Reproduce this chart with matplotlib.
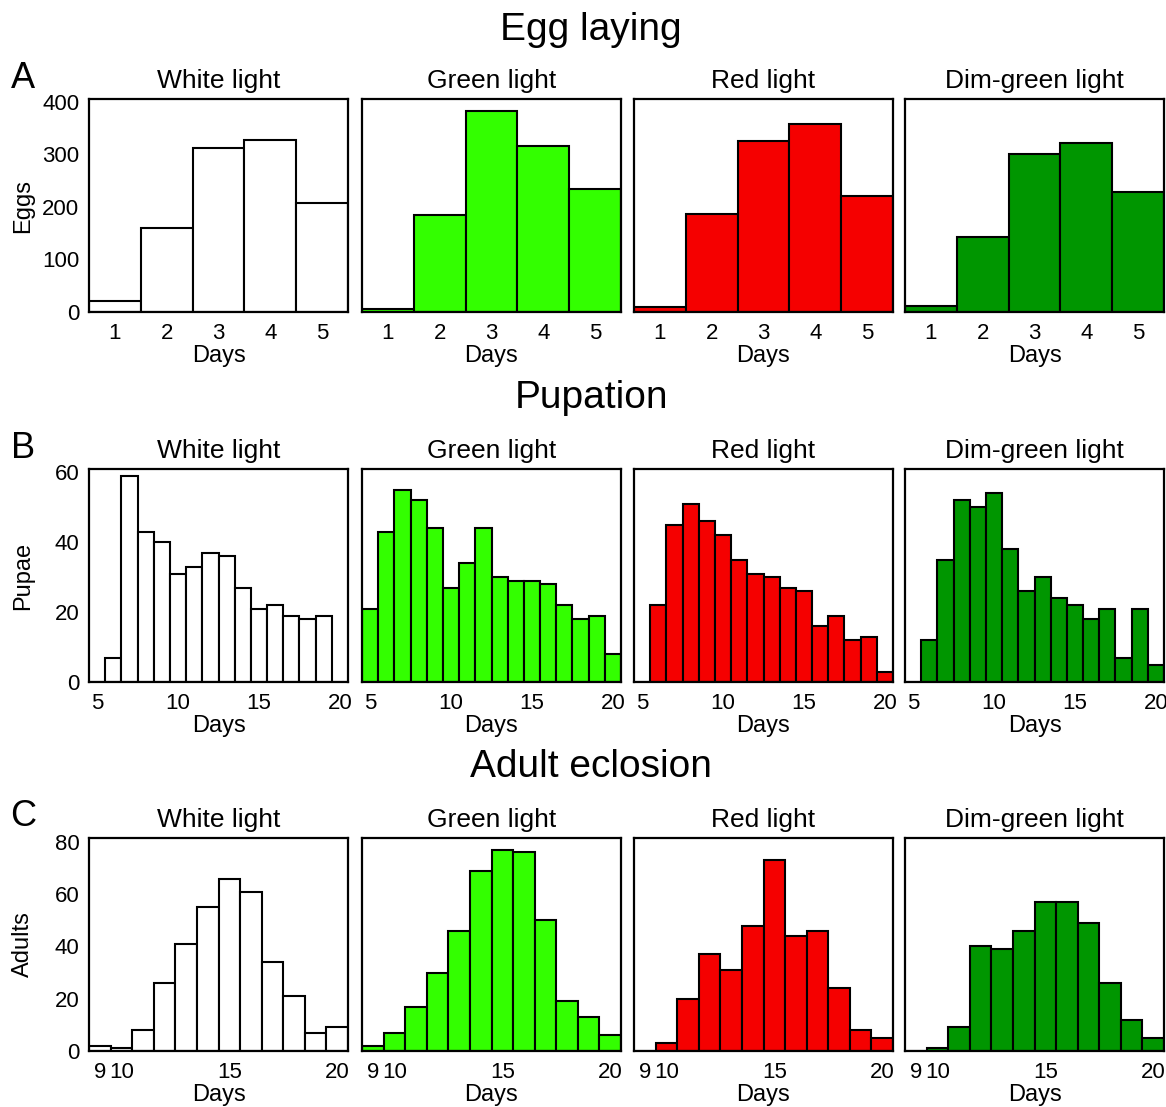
import matplotlib
matplotlib.use('Agg')
import matplotlib.pyplot as plt

plt.rcParams['font.family'] = ['Liberation Sans', 'DejaVu Sans']

conditions = ['White light', 'Green light', 'Red light', 'Dim-green light']
colors = ['white', '#33ff00', '#f50000', '#009600']

# A: egg laying, days 1-5
egg_days = [1, 2, 3, 4, 5]
eggs_white = [20, 159, 312, 327, 208]
eggs_green = [6, 184, 382, 315, 234]
eggs_red = [10, 186, 326, 358, 220]
eggs_dim = [12, 142, 300, 322, 229]

# B: pupation, days 5-20
pupa_days = list(range(5, 21))
pupae_white = [0, 7, 59, 43, 40, 31, 33, 37, 36, 27, 21, 22, 19, 18, 19, 0]
pupae_green = [21, 43, 55, 52, 44, 27, 34, 44, 30, 29, 29, 28, 22, 18, 19, 8]
pupae_red = [0, 22, 45, 51, 46, 42, 35, 31, 30, 27, 26, 16, 19, 12, 13, 3]
pupae_dim = [0, 12, 35, 52, 50, 54, 38, 26, 30, 24, 22, 18, 21, 7, 21, 5]

# C: adult eclosion, days 9-20
adult_days = list(range(9, 21))
adults_white = [2, 1, 8, 26, 41, 55, 66, 61, 34, 21, 7, 9]
adults_green = [2, 7, 17, 30, 46, 69, 77, 76, 50, 19, 13, 6]
adults_red = [0, 3, 20, 37, 31, 48, 73, 44, 46, 24, 8, 5]
adults_dim = [0, 1, 9, 40, 39, 46, 57, 57, 49, 26, 12, 5]

rows = [
    dict(title='Egg laying', letter='A', ylabel='Eggs', days=egg_days,
         data=[eggs_white, eggs_green, eggs_red, eggs_dim],
         xlim=(0.5, 5.5), ylim=(0, 405), xticks=[1, 2, 3, 4, 5],
         yticks=[0, 100, 200, 300, 400]),
    dict(title='Pupation', letter='B', ylabel='Pupae', days=pupa_days,
         data=[pupae_white, pupae_green, pupae_red, pupae_dim],
         xlim=(4.5, 20.5), ylim=(0, 61), xticks=[5, 10, 15, 20],
         yticks=[0, 20, 40, 60]),
    dict(title='Adult eclosion', letter='C', ylabel='Adults', days=adult_days,
         data=[adults_white, adults_green, adults_red, adults_dim],
         xlim=(8.5, 20.5), ylim=(0, 81.5), xticks=[9, 10, 15, 20],
         yticks=[0, 20, 40, 60, 80]),
]

W, H = 1166, 1107
fig = plt.figure(figsize=(W / 100, H / 100), dpi=100)

col_left = [89, 362, 634, 905]
col_w = 259
row_top = [99, 469, 838]
row_h = 213
title_y = [30, 398, 767]
letter_y = [78, 448, 817]

for r, row in enumerate(rows):
    fig.text(591 / W, 1 - title_y[r] / H, row['title'], ha='center', va='center', fontsize=28)
    fig.text(23 / W, 1 - letter_y[r] / H, row['letter'], ha='center', va='center', fontsize=26)
    fig.text(23 / W, 1 - (row_top[r] + row_h / 2) / H, row['ylabel'], ha='center', va='center',
             rotation=90, fontsize=17)
    for c in range(4):
        ax = fig.add_axes([col_left[c] / W, 1 - (row_top[r] + row_h) / H, col_w / W, row_h / H])
        ax.bar(row['days'], row['data'][c], width=1.0, color=colors[c], edgecolor='black', linewidth=1.5)
        ax.set_xlim(*row['xlim'])
        ax.set_ylim(*row['ylim'])
        ax.set_xticks(row['xticks'])
        ax.set_yticks(row['yticks'])
        ax.tick_params(length=0, labelsize=16)
        ax.tick_params(axis='x', pad=8)
        ax.tick_params(axis='y', pad=7)
        if c > 0:
            ax.set_yticklabels([])
        for s in ax.spines.values():
            s.set_linewidth(1.6)
        ax.set_title(conditions[c], fontsize=19, pad=8)
        ax.set_xlabel('Days', fontsize=17, labelpad=0.5)

fig.savefig('out.png', dpi=100)
